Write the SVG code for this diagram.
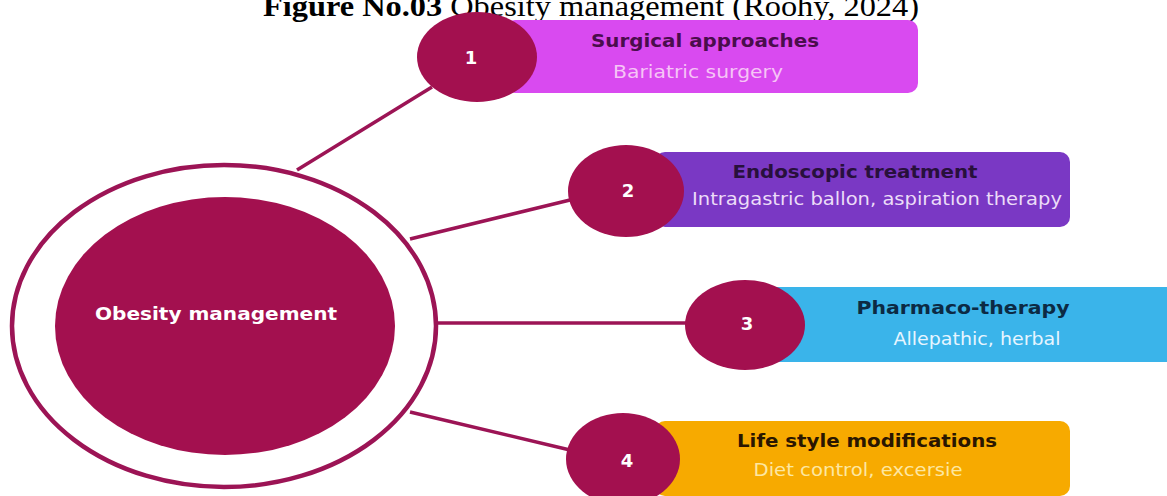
<svg xmlns="http://www.w3.org/2000/svg" width="1167" height="496" viewBox="0 0 1167 496">
<style>
.conn{stroke:#9c1455;stroke-width:3.5;fill:none}
.num{fill:#a3104f}
.nt{font-family:"DejaVu Sans",Verdana,sans-serif;font-weight:bold;font-size:18px;fill:#ffffff;text-anchor:middle}
.t{font-family:"DejaVu Sans",Verdana,sans-serif;font-weight:bold;font-size:17px;text-anchor:middle}
.s{font-family:"DejaVu Sans",Verdana,sans-serif;font-size:17px;text-anchor:middle}
</style>
<rect width="1167" height="496" fill="#ffffff"/>
<text x="263" y="16" font-family="Liberation Serif,serif" font-size="30" fill="#000" textLength="656" lengthAdjust="spacingAndGlyphs"><tspan font-weight="bold">Figure No.03</tspan> Obesity management (Roohy, 2024)</text>
<g id="connectors">
<line class="conn" x1="297" y1="170" x2="432" y2="87"/>
<line class="conn" x1="410" y1="239" x2="570" y2="200"/>
<line class="conn" x1="437" y1="323" x2="687" y2="323"/>
<line class="conn" x1="410" y1="412" x2="570" y2="450"/>
</g>
<g id="center">
<ellipse cx="224" cy="326" rx="212" ry="161" fill="#ffffff" stroke="#9c1455" stroke-width="4.5"/>
<ellipse cx="225" cy="326" rx="170" ry="129" fill="#a3104f"/>
<text x="216" y="320" font-family="DejaVu Sans,Verdana,sans-serif" font-weight="bold" font-size="18" fill="#ffffff" text-anchor="middle" textLength="242" lengthAdjust="spacingAndGlyphs">Obesity management</text>
</g>
<g id="node1">
<rect x="505" y="20" width="413" height="73" rx="10" fill="#d94af0"/>
<ellipse class="num" cx="477" cy="57" rx="60" ry="45"/>
<text class="nt" x="471" y="64">1</text>
<text class="t" x="705" y="47" fill="#4a0d4c" textLength="228" lengthAdjust="spacingAndGlyphs">Surgical approaches</text>
<text class="s" x="698" y="78" fill="#f6c4f6" textLength="170" lengthAdjust="spacingAndGlyphs">Bariatric surgery</text>
</g>
<g id="node2">
<rect x="655" y="152" width="415" height="75" rx="10" fill="#7a38c4"/>
<ellipse class="num" cx="626" cy="191" rx="58" ry="46"/>
<text class="nt" x="628" y="197">2</text>
<text class="t" x="855" y="178" fill="#28103c" textLength="245" lengthAdjust="spacingAndGlyphs">Endoscopic treatment</text>
<text class="s" x="877" y="205" fill="#ecdcf8" textLength="370" lengthAdjust="spacingAndGlyphs">Intragastric ballon, aspiration therapy</text>
</g>
<g id="node3">
<rect x="777" y="287" width="400" height="75" rx="0" fill="#3ab4ea"/>
<ellipse class="num" cx="745" cy="325" rx="60" ry="45"/>
<text class="nt" x="747" y="330">3</text>
<text class="t" x="963" y="314" fill="#0c2a44" textLength="213" lengthAdjust="spacingAndGlyphs">Pharmaco-therapy</text>
<text class="s" x="977" y="345" fill="#e6f5ff" textLength="167" lengthAdjust="spacingAndGlyphs">Allepathic, herbal</text>
</g>
<g id="node4">
<rect x="655" y="421" width="415" height="75" rx="10" fill="#f7aa00"/>
<ellipse class="num" cx="623" cy="459" rx="57" ry="46"/>
<text class="nt" x="627" y="467">4</text>
<text class="t" x="867" y="447" fill="#2a1600" textLength="260" lengthAdjust="spacingAndGlyphs">Life style modifications</text>
<text class="s" x="858" y="476" fill="#fde7a2" textLength="209" lengthAdjust="spacingAndGlyphs">Diet control, excersie</text>
</g>
</svg>
